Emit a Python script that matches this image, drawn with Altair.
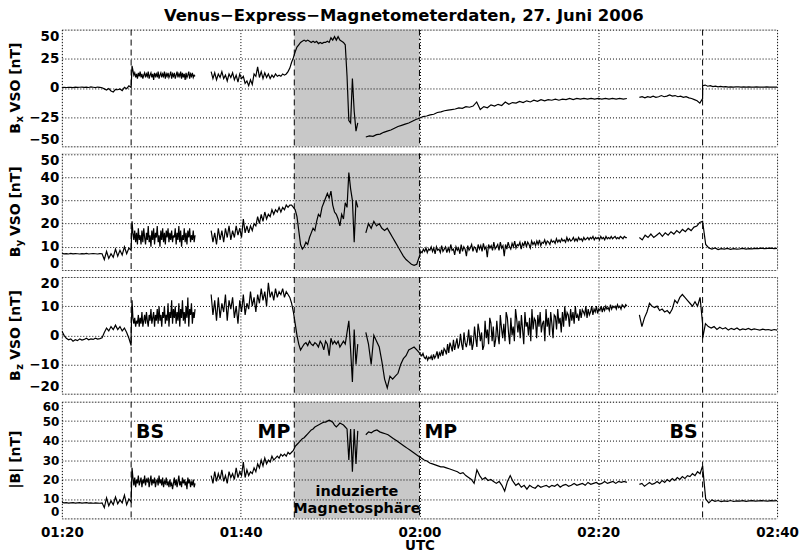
import json
import altair as alt
import pandas as pd

# ---------------- data (time in minutes after 01:20 UTC) ----------------
X_TICKS = [0, 20, 40, 60, 80]
X_LABELS = ["01:20", "01:40", "02:00", "02:20", "02:40"]
BS_TIMES = [7.75, 71.67]
MP_TIMES = [26.0, 40.0]

# Bx VSO [nT]
BX_A = (0.0, 7.75, [0.3, 0.5, 0.4, 0.6, 0.5, 0.3, 0.7, 0.5, 0.6, 0.8, 0.5, 0.7, 0.4, 0.9, 0.6, 0.3,
                    0.8, 0.5, 0.2, -0.8, -1.8, -0.5, -2.6, -3.4, -1.2, -1.5, -0.8, -2.2, 0.5, -0.6, 1.8, 0.4])
BX_B = (7.75, 14.9, [0.5, 19, 15, 11, 13, 9, 12, 8, 13, 10, 14, 9, 12, 8, 11, 13, 9, 12, 10, 14,
                     8, 11, 13, 9, 12, 7, 13, 10, 12, 9, 14, 8, 11, 13, 9, 12, 10, 14, 8, 12,
                     10, 13, 9, 11, 14, 8, 12, 10, 13, 8, 11, 14, 9, 12, 10, 14, 8, 13, 9, 12,
                     7, 13, 9, 11, 14, 8, 12, 10, 13, 9, 11, 10])
BX_C = (16.7, 33.1, [14, 8, 13, 7, 12, 9, 14, 8, 11, 6, 12, 9, 13, 7, 11, 5, 12, 8, 10, 4, 6, 2, 7, 3, 12,
                     10, 18, 9, 14, 8, 13, 9, 12, 8, 11, 9, 12, 10, 11, 10, 12, 11, 12, 14, 17, 22, 26, 31,
                     35, 37, 39, 40, 41, 40, 41, 40, 39, 40, 39, 40, 38, 39, 38, 39, 39, 40, 39, 43, 41, 44,
                     41, 44, 41, 40, 39, 37, 10, -28, -30, 8, -20, -37, -30])
BX_D = (34.0, 63.2, [-42, -41, -41.5, -40, -39.5, -38, -37, -36, -34.5, -33, -32, -31, -30, -28.5, -27, -26,
                     -24.5, -24, -23, -22.5, -21, -20.5, -19.5, -19, -18.5, -18, -17, -17.5, -16, -16.5,
                     -15.5, -12, -18.5, -16, -17, -14.5, -15.5, -14, -15, -12, -14, -12.5, -13, -11.5,
                     -12.5, -11, -12, -10.5, -11.5, -10, -11, -10, -10.5, -9.5, -10.5, -9.5, -10, -9, -10,
                     -9, -9.5, -9, -9.5, -9, -9.5, -9, -9.5, -9, -9.5, -9, -9.5, -9, -9.5, -9])
BX_E = (64.6, 71.67, [-8, -7.5, -8.5, -7.5, -8, -7, -8, -7.5, -6.5, -7.5, -7, -6, -7, -6.5, -7.5, -7, -8,
                      -7.5, -8.5, -9, -10, -11, -13, -9])
BX_F = (71.67, 80.0, [2, 2.5, 1.5, 2, 1.2, 1.6, 1.0, 1.3, 0.9, 1.2, 0.8, 1.0, 0.7, 0.9, 1.0, 0.8, 0.9, 0.7,
                      0.9, 0.8, 0.7, 0.9, 0.8, 0.7, 0.8, 0.9, 0.7, 0.8, 0.7, 0.8])

# By VSO [nT]
BY_A = (0.0, 7.75, [7.2, 7.0, 7.1, 6.9, 7.2, 7.0, 7.1, 7.0, 6.9, 7.1, 7.0, 7.2, 6.9, 7.0, 7.1, 7.0, 6.9,
                    7.1, 7.0, 4.5, 8, 5, 7, 5.5, 9, 6, 8.5, 6.5, 10, 7, 9.5, 8.5])
BY_B = (7.75, 14.9, [9, 21, 16, 13, 17, 12, 16, 11, 18, 13, 15, 11, 17, 12, 18, 14, 11, 16, 13, 19,
                     12, 15, 10, 17, 13, 18, 11, 16, 14, 19, 12, 15, 10, 17, 13, 18, 12, 16, 11, 17,
                     14, 18, 12, 16, 13, 17, 12, 15, 14, 18, 11, 16, 13, 19, 12, 17, 10, 15, 13, 18,
                     12, 16, 11, 17, 14, 18, 12, 15, 13, 17, 12, 15])
BY_C = (16.7, 33.1, [17, 12, 16, 11, 18, 13, 17, 12, 18, 14, 19, 13, 17, 14, 19, 15, 18, 14, 22, 16, 19, 16,
                     19, 17, 20, 19, 23, 20, 24, 21, 25, 22, 24, 23, 26, 24, 26, 25, 27, 25, 27, 26, 28, 27,
                     28, 28, 27, 26, 23, 17, 11, 9, 10, 12, 11, 14, 16, 18, 17, 21, 24, 23, 27, 29, 31, 33,
                     31, 34, 28, 25, 24, 22, 19, 24, 22, 29, 27, 42, 35, 30, 12, 30, 27])
BY_D1 = (34.0, 40.0, [16, 20, 18, 21, 19, 20, 18, 17, 18, 16, 14, 12, 10, 8, 6, 4.5, 3.5, 2.5, 2, 2.5, 6])
BY_D2 = (40.0, 63.2, [6, 8, 7.5, 9, 8, 9.5, 7.5, 9, 8.5, 10,
                      8, 9.5, 7, 10, 8.5, 9, 7.5, 10.5, 8, 9,
                      10, 7.5, 9.5, 8, 11, 8.5, 9, 6.5, 10, 8.5,
                      9.5, 7, 11, 8, 10, 9, 6, 10.5, 8.5, 9.5,
                      11, 8, 10, 9.5, 7.5, 11, 9, 10.5, 8, 11.5,
                      9, 10, 5.5, 11, 9.5, 10.5, 8.5, 12, 9, 10,
                      11, 8.5, 12, 9.5, 10.5, 6, 11, 9, 12, 10,
                      9, 11.5, 10, 12.5, 9.5, 11, 10.5, 12, 9, 11.5,
                      10.5, 12.5, 10, 12, 11, 9.5, 12.5, 11, 12, 10.5,
                      12.5, 11, 13, 10.5, 12, 11.5, 13, 11, 12.5, 12,
                      11, 13, 12, 12.5, 11.5, 13.5, 12, 13, 12, 13.5,
                      12.5, 13, 12, 14, 12.5, 13.5, 12.5, 13, 14, 12.5,
                      13.5, 12.5, 14, 13, 13.5, 12.5, 14, 13, 13.5, 14,
                      13, 14, 13.5, 14.5, 13, 14, 13.5, 14, 13, 14.5,
                      13.5, 14, 13, 14.5, 13.5, 14, 13.5, 14.5, 13.5, 14,
                      14.5, 13.5, 14, 13.5, 14.5, 14, 13.5, 14.5, 14, 14])
BY_E = (64.6, 71.67, [14, 13, 15, 14, 15.5, 14, 15, 16, 14.5, 16, 15, 16.5, 15.5, 17, 16, 17.5, 16.5, 18,
                      17, 18.5, 19, 20.5, 21])
BY_F = (71.67, 80.0, [21, 11, 9.5, 9, 9.5, 8.8, 9.2, 9, 9.3, 8.9, 9.2, 9, 9.1, 9.3, 9, 9.2, 9.1, 9.3, 9.2,
                      9.4, 9.2, 9.3, 9.4, 9.2, 9.3])

# Bz VSO [nT]
BZ_A = (0.0, 7.75, [1.5, 0, -1, -1.5, -1.2, -2, -1.5, -1.8, -1.2, -1.6, -1.4, -1.0, -1.5, -1.2, -1.4, -1.0,
                    -1.3, -1.1, -0.8, 1, 2.5, 1.5, 3, 2, 3.5, 2, 3, 1.5, 2.5, 1, -1, -3.5])
BZ_B = (7.75, 14.9, [0, 12, 6, 4, 6, 3, 5, 4, 7, 3, 6, 4, 8, 3, 5, 7, 4, 8, 5, 3,
                     7, 5, 9, 4, 6, 8, 3, 7, 5, 9, 4, 10, 5, 7, 3, 8, 6, 10, 4, 7,
                     5, 11, 3, 8, 6, 12, 4, 9, 6, 10, 4, 8, 5, 11, 3, 9, 6, 12, 5, 8,
                     4, 10, 6, 13, 3, 9, 7, 11, 4, 8, 6, 9])
BZ_C = (16.7, 33.1, [14, 7, 12, 5, 13, 6, 11, 8, 14, 5, 12, 9, 13, 6, 10, 4, 12, 8, 14, 7, 11, 9, 15, 10, 13,
                     8, 14, 11, 16, 12, 15, 10, 18, 13, 15, 12, 16, 13, 15, 14, 16, 13, 15, 14, 13,
                     11, 8, 4, 0, -3, -5, -4, -3, -2.5, -3.5, -2, -3, -3.5, -2.5, -3, -4, -2, -3, -5, -2,
                     -3, -7, -1, -3, -2, -3,
                     -2, -4, -3, -2, -3, 1, 5, -5, -16, 2, -10, -3])
BZ_D1 = (34.0, 40.0, [1, -3, -10, 0, -2, -4, -9, -15, -18, -14, -15, -14, -13, -10, -8, -7, -5, -4.5, -4,
                      -5, -6])
BZ_D2 = (40.0, 63.2, [-6, -6.5, -7, -6.2, -7.5, -8, -7.2, -8.5, -7.5, -8,
                      -7, -8.5, -6.5, -7.8, -7, -5.5, -8, -6, -6.8, -5,
                      -7, -4.5, -5.2, -6.5, -3, -6, -2.5, -3.8, -5.5, -1.5,
                      -5, -3, -1, -4.5, -3.2, 0.5, -3, -5, 1, -2.5,
                      -4, -1.8, 2, -3.5, 0, -5, -2.8, 3, -1, -4,
                      4, 1.5, -2, 1, -5, -3.5, 5, -1, 2, -3,
                      6, 4.2, -2, 3, -4, -1.5, 5, 0, -3, 7,
                      2.5, -1, 4, -2, 8, 6.1, 1, -3, 6, 0,
                      3, -2, 9, 5.5, 1, 5, -1, 7, 2, -3,
                      8, 3, 4.5, 0, 6, -2, 9, 2, 5.8, 5, -1,
                      7, 3, 8, 1, 4, 5, -2, 9, 3, 6, 0,
                      8, 4, -1, 7, 6.5, 2, 9, 4, 6, 1, 8,
                      3, 10, 5, 7.8, 7, 3, 9, 5, 8, 4,
                      10, 6, 7, 5, 9, 6, 8.8, 8, 7, 10,
                      6, 9, 7, 8, 10, 7, 9, 8, 10, 7.5,
                      9, 8.5, 10, 8, 9.5, 8.5, 10, 9, 9.5, 8.5,
                      10.5, 9, 10, 9.5, 10, 9, 10.5, 9.5, 10, 9,
                      10.5, 10, 9.5, 10.5, 10])
BZ_E = (64.6, 71.67, [7, 3, 6, 8, 11, 10, 9.5, 10, 8.5, 9, 8, 8.5, 7.5, 9, 12, 11, 13, 14, 13, 12, 11, 10,
                      11.5, 10, 13, 4])
BZ_F = (71.67, 80.0, [-1, 4, 3, 2.5, 3, 2, 2.8, 2.2, 2.6, 1.8, 2.4, 2.0, 2.5, 1.8, 2.2, 2.0, 2.4, 1.9, 2.2,
                      2.0, 1.8, 2.1, 1.9, 2.0, 1.7, 2.0, 1.8])

# |B| [nT]
BT_A = (0.0, 7.75, [8.2, 8.0, 8.1, 7.9, 8.0, 8.1, 7.9, 8.0, 8.1, 7.9, 8.0, 8.1, 7.9, 8.0, 7.8, 8.0, 7.9,
                    7.8, 8.0, 5.5, 10.5, 6.5, 9, 7, 11, 7.5, 9.5, 8, 12, 7, 10, 8.5])
BT_B = (7.75, 14.9, [9, 26, 21, 17, 21, 16, 20, 18, 22, 17, 19, 21, 16, 20, 18, 22, 17, 20, 19, 21,
                     16, 19, 22, 17, 20, 18, 21, 16, 19, 20, 17, 22, 18, 20, 17, 21, 16, 19, 18, 21,
                     17, 19, 16, 20, 17, 18, 15, 18, 21, 17, 20, 16, 19, 22, 17, 19, 16, 21, 18, 20,
                     17, 19, 15, 21, 18, 20, 16, 19, 17, 20, 16, 18])
BT_C = (16.7, 33.1, [22, 18, 24, 19, 23, 20, 25, 19, 22, 18, 24, 21, 23, 20, 26, 21, 24, 22, 29, 21, 25, 22,
                     24, 23, 26,
                     24, 28, 26, 30, 27, 31, 28, 30, 29, 32, 30, 31, 32, 31, 33, 32, 33, 32, 34, 33,
                     34, 35, 37, 38, 39, 40, 41, 41.5, 42.5, 43.5, 44.5, 45.5, 46, 47, 47.5, 48, 48.5, 49,
                     49.5, 49.5, 50, 50.5, 50, 49.5, 48, 47,
                     48, 49, 48.5, 48, 47, 46, 30, 46, 24, 46, 28, 45])
BT_D = (34.0, 63.2, [43, 44.5, 44, 45, 45.5, 44.5, 44, 43.5, 43, 42, 41, 40, 39, 38, 37, 36, 35, 34, 33, 32,
                     31, 30, 29.5, 28.5, 28, 27.5, 27, 26.5, 26.5, 26, 25.5, 25, 24.5, 24, 23, 23.5, 22, 21,
                     20, 18, 25, 22, 20, 21, 19.5, 20, 19, 18, 19, 17, 14, 19, 22, 19, 17, 18, 16, 17, 15,
                     17, 16, 15.5, 17, 16, 16.5, 17, 16, 17, 16.5, 17.5, 16, 17, 17.5, 16.5, 17, 18, 17,
                     17.5, 18, 17, 18.5, 17.5, 18, 18.5, 17.5, 18, 19, 18, 18.5, 19, 18, 19, 18.5, 19, 18.5])
BT_E = (64.6, 71.67, [17.5, 18, 16.5, 17.5, 18.5, 17.5, 18, 19, 18, 19.5, 18.5, 20, 19, 20.5, 19.5, 21, 20,
                      21.5, 20.5, 22, 21.5, 23, 22, 24, 23, 27])
BT_F = (71.67, 80.0, [27, 10, 8, 9.5, 8.8, 9.2, 8.6, 9, 8.8, 9.2, 8.7, 9, 8.9, 9.1, 8.8, 9, 9.1, 8.9, 9,
                      9.1, 9, 8.9, 9.1, 9, 9.1])

# annotations in the |B| panel
EVENT_LABELS = ["BS", "MP", "MP", "BS"]
EVENT_LABEL_LEVEL = 44.6
REGION_LABELS = ["induzierte", "Magnetosph\u00e4re"]
REGION_LABEL_LEVELS = [13.8, 4.8]

TITLE = "Venus\u2212Express\u2212Magnetometerdaten, 27. Juni 2006"

# ---------------- layout ----------------
W, H = 717, 117
FONT = "DejaVu Sans"
XSCALE = alt.Scale(domain=[0, 80], nice=False, zero=False)
GRID = dict(grid=True, gridDash=[1, 2], gridColor="black", gridOpacity=1, gridWidth=1,
            domain=False, ticks=False, zindex=1)


def build(groups):
    rows = []
    for g, pieces in enumerate(groups):
        k = 0
        for start, end, vals in pieces:
            n = len(vals)
            for i, v in enumerate(vals):
                rows.append({"t": start + (end - start) * i / (n - 1), "v": v, "g": g, "k": k})
                k += 1
    return pd.DataFrame(rows)


label_expr = "{}[indexof({}, datum.value)]".format(json.dumps(X_LABELS), json.dumps(X_TICKS))


def xaxis(bottom):
    if bottom:
        return alt.Axis(values=X_TICKS, labelExpr=label_expr, labelFlush=False, labelPadding=7,
                        labelFont=FONT, labelFontSize=13.5, labelFontWeight="bold", labelColor="black",
                        title="UTC", titleFont=FONT, titleFontSize=13.5, titleFontWeight="bold",
                        titleColor="black", titlePadding=0, **GRID)
    return alt.Axis(values=X_TICKS, labels=False, title=None, minExtent=0, maxExtent=0, **GRID)


def panel(groups, domain, ticks, title_parts, bottom=False, extra=None, label_size=13.5):
    df = build(groups)
    yaxis = alt.Axis(values=ticks, labelFlush=True, labelOverlap=False, labelPadding=3,
                     labelFont=FONT, labelFontSize=label_size, labelFontWeight="bold", labelColor="black",
                     title=None, **GRID)
    xa = xaxis(bottom)

    def X(field="t"):
        return alt.X(f"{field}:Q", scale=XSCALE, axis=xa)

    def Y():
        return alt.Y("v:Q", scale=alt.Scale(domain=domain, nice=False, zero=False), axis=yaxis)

    shade = alt.Chart(pd.DataFrame({"t": [MP_TIMES[0]], "t2": [MP_TIMES[1]]})).mark_rect(
        color="#c8c8c8").encode(x=X(), x2="t2:Q", y=alt.value(0), y2=alt.value(H))
    line = alt.Chart(df).mark_line(color="black", strokeWidth=1.2, clip=True).encode(
        x=X(), y=Y(), detail="g:N", order="k:Q")
    dashed = alt.Chart(pd.DataFrame({"t": [BS_TIMES[0], MP_TIMES[0], BS_TIMES[1]]})).mark_rule(
        color="black", strokeWidth=1, strokeDash=[6, 4]).encode(x=X(), y=alt.value(0), y2=alt.value(H))
    dashdot = alt.Chart(pd.DataFrame({"t": [MP_TIMES[1]]})).mark_rule(
        color="black", strokeWidth=1, strokeDash=[6, 3, 1.5, 3]).encode(
        x=X(), y=alt.value(0), y2=alt.value(H))
    one = pd.DataFrame({"a": [0]})
    titles = [alt.Chart(one).mark_text(text=txt, angle=270, align="center", baseline="middle",
                                       font=FONT, fontWeight="bold", fontSize=fs, color="black").encode(
        x=alt.value(xx), y=alt.value(yy)) for txt, fs, xx, yy in title_parts]
    layers = [shade, line, dashed, dashdot] + titles
    if extra is not None:
        layers += extra(X, Y)
    return alt.layer(*layers).properties(width=W, height=H)


def comp_title(sub):
    return [("B", 14, -46, 99), (sub, 10, -42, 90), ("VSO [nT]", 14, -46, 48)]


def annotations(X, Y):
    out = []
    times = [BS_TIMES[0], MP_TIMES[0], MP_TIMES[1], BS_TIMES[1]]
    offsets = [5, -4, 5, -5]
    for t, s, dx in zip(times, EVENT_LABELS, offsets):
        d = pd.DataFrame({"t": [t], "v": [EVENT_LABEL_LEVEL], "s": [s]})
        out.append(alt.Chart(d).mark_text(
            align="left" if dx > 0 else "right", baseline="middle", dx=dx,
            font=FONT, fontWeight="bold", fontSize=19, color="black").encode(x=X(), y=Y(), text="s:N"))
    d = pd.DataFrame({"t": [sum(MP_TIMES) / 2] * 2, "v": REGION_LABEL_LEVELS, "s": REGION_LABELS})
    out.append(alt.Chart(d).mark_text(align="center", baseline="middle", font=FONT, fontWeight="bold",
                                      fontSize=14.5, color="black").encode(x=X(), y=Y(), text="s:N"))
    return out


p1 = panel([[BX_A, BX_B], [BX_C], [BX_D], [BX_E, BX_F]], [-50, 50], [-50, -25, 0, 25, 50], comp_title("x"))
p2 = panel([[BY_A, BY_B], [BY_C], [BY_D1, BY_D2], [BY_E, BY_F]], [0, 50.3], [0, 10, 20, 30, 40, 50],
           comp_title("y"))
p3 = panel([[BZ_A, BZ_B], [BZ_C], [BZ_D1, BZ_D2], [BZ_E, BZ_F]], [-20, 20], [-20, -10, 0, 10, 20],
           comp_title("z"))
p4 = panel([[BT_A, BT_B], [BT_C], [BT_D], [BT_E, BT_F]], [0, 60], [0, 10, 20, 30, 40, 50, 60],
           [("|B| [nT]", 14, -46, 58)], bottom=True, extra=annotations, label_size=12)

chart = alt.vconcat(p1, p2, p3, p4, spacing=5).properties(
    title=alt.TitleParams(TITLE, font=FONT, fontSize=16.5, fontWeight="bold", color="black",
                          anchor="middle", offset=4),
    padding={"left": 8, "top": 7, "right": 5, "bottom": 0},
).configure_view(stroke="black", strokeWidth=1.5).configure(background="white")

chart.save("out.html", embed_options={"renderer": "svg", "actions": False})
